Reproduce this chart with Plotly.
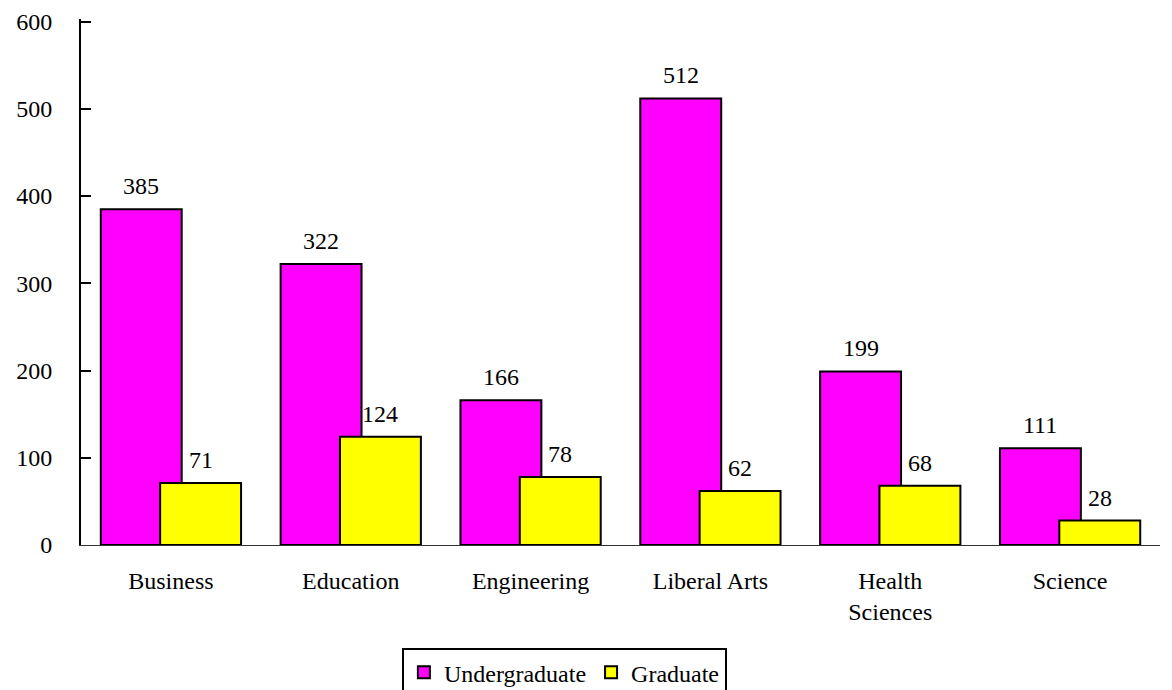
import plotly.graph_objects as go

categories = ["Business", "Education", "Engineering", "Liberal Arts", "Health<br>Sciences", "Science"]
undergraduate = [385, 322, 166, 512, 199, 111]
graduate = [71, 124, 78, 62, 68, 28]
y_ticks = [0, 100, 200, 300, 400, 500, 600]

FONT = "Liberation Serif"
SIZE = 24
BAR_W = 0.45
OFF_U = -0.39
OFF_G = -0.06

fig = go.Figure()
fig.add_trace(go.Bar(
    x=categories, y=undergraduate, name="Undergraduate",
    width=BAR_W, offset=OFF_U,
    marker=dict(color="#FF00FF", line=dict(color="black", width=2)),
))
fig.add_trace(go.Bar(
    x=categories, y=graduate, name="Graduate",
    width=BAR_W, offset=OFF_G,
    marker=dict(color="#FFFF00", line=dict(color="black", width=2)),
))

annotations = []
for off, vals in ((OFF_U, undergraduate), (OFF_G, graduate)):
    for i, v in enumerate(vals):
        annotations.append(dict(
            x=i + off + BAR_W / 2, y=v, xref="x", yref="y",
            text=str(v), showarrow=False, yanchor="bottom", yshift=8,
            font=dict(family=FONT, size=SIZE, color="black"),
        ))

fig.update_layout(
    width=1164, height=682,
    barmode="overlay",
    plot_bgcolor="white", paper_bgcolor="white",
    margin=dict(l=73, r=12, t=11.4, b=145, autoexpand=False),
    font=dict(family=FONT, size=SIZE, color="black"),
    showlegend=True,
    annotations=annotations,
    legend=dict(
        orientation="h", x=0.448, xanchor="center", y=-0.196, yanchor="top",
        bordercolor="black", borderwidth=2, bgcolor="white",
        font=dict(family=FONT, size=SIZE, color="black"),
        itemwidth=30, tracegroupgap=0,
    ),
    xaxis=dict(
        showgrid=False, showline=True, linecolor="#333333", linewidth=1,
        ticks="", ticklabelstandoff=14,
        tickfont=dict(family=FONT, size=SIZE, color="black"),
    ),
    yaxis=dict(
        range=[0, 603], tickvals=y_ticks, showgrid=False, zeroline=False,
        showline=True, linecolor="black", linewidth=2,
        ticks="inside", ticklen=10, tickwidth=2, tickcolor="black",
        ticklabelstandoff=22, ticklabeloverflow="allow",
        tickfont=dict(family=FONT, size=SIZE, color="black"),
    ),
)

fig.write_html("out.html")
